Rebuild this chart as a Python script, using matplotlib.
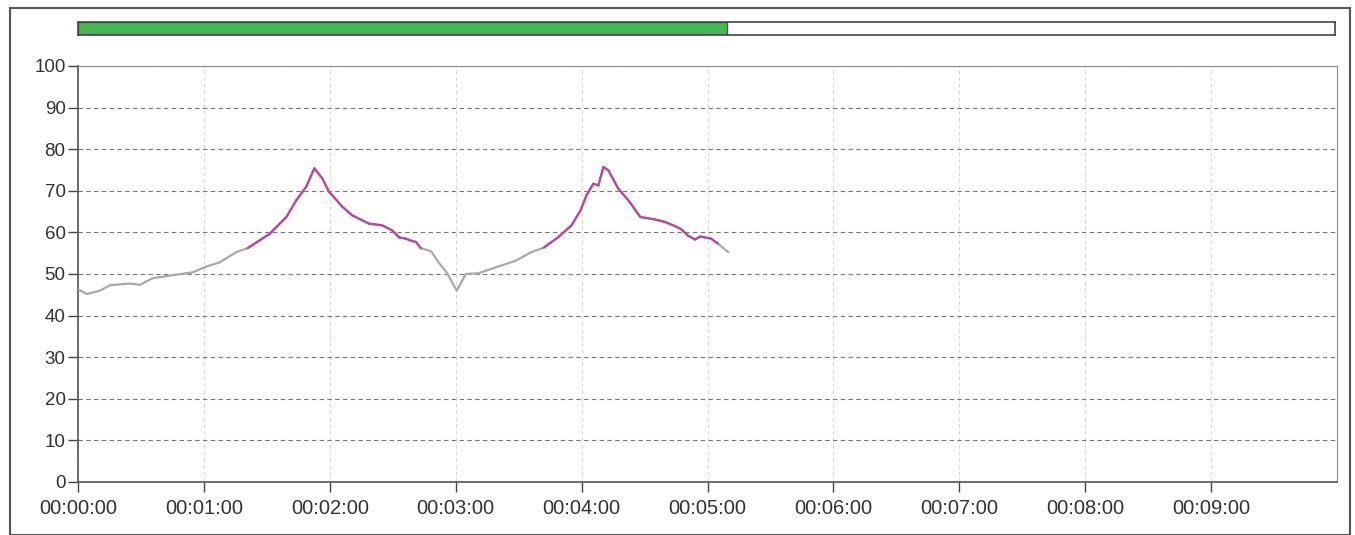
import numpy as np
import matplotlib
matplotlib.use("Agg")
import matplotlib.pyplot as plt
from matplotlib.patches import Rectangle
from matplotlib.ticker import FuncFormatter

plt.rcParams["font.family"] = ["Liberation Sans", "DejaVu Sans"]

# time in seconds
t_sec = [0, 4.3, 10.5, 15.2, 24.7, 29.5, 35.6, 43.7, 54.6, 61.3, 67.5, 75.6,
         80.8, 91.2, 99.3, 104.0, 108.8, 112.6, 116.4, 119.7, 121.2, 125.9,
         130.7, 138.7, 144.9, 149.7, 153.0, 156.3, 158.7, 161.1, 163.4,
         168.2, 172.0, 175.8, 180.5, 184.8, 191.0, 199.1, 208.6, 216.2,
         221.9, 229.0, 235.2, 239.5, 242.3, 245.6, 248.0, 250.4, 252.8,
         257.5, 262.3, 268.0, 275.1, 279.8, 284.6, 287.4, 290.8, 294.1,
         296.5, 301.7, 305.0, 309.8]
values = [46.3, 45.2, 46.0, 47.3, 47.7, 47.4, 49.0, 49.6, 50.4, 51.8, 52.8, 55.3,
          56.2, 59.6, 63.7, 67.7, 71.0, 75.4, 73.0, 69.7, 68.9, 66.2,
          64.1, 62.1, 61.7, 60.5, 58.8, 58.5, 58.0, 57.7, 56.2,
          55.5, 52.7, 50.3, 46.0, 50.0, 50.2, 51.6, 53.2, 55.3,
          56.3, 58.9, 61.7, 65.3, 68.9, 71.7, 71.3, 75.7, 74.9,
          70.5, 67.7, 63.7, 63.1, 62.5, 61.5, 60.8, 59.2, 58.3,
          59.0, 58.5, 57.3, 55.3]
threshold = 56
total_sec = 600
y_ticks = list(range(0, 101, 10))
x_ticks = [m * 60 for m in range(10)]

t = np.array(t_sec)
v = np.array(values)

fig = plt.figure(figsize=(13.55, 5.35), dpi=100)
fig.patches.append(Rectangle((10 / 1355, 0), 1340 / 1355, 1 - 8 / 535,
                             transform=fig.transFigure, fill=False,
                             edgecolor="#555555", lw=1.5))

# progress bar
pax = fig.add_axes([78 / 1355, 1 - 35 / 535, 1257 / 1355, 13 / 535])
pax.barh(0, t[-1], height=1, color="#45b855", edgecolor="#2f6f3a",
         lw=1.0, align="edge")
pax.set_xlim(0, total_sec)
pax.set_ylim(0, 1)
pax.set_xticks([])
pax.set_yticks([])
for s in pax.spines.values():
    s.set_color("#444444")
    s.set_linewidth(1.2)

ax = fig.add_axes([78 / 1355, 1 - 482 / 535, 1259 / 1355, 416 / 535])
ax.set_xlim(0, total_sec)
ax.set_ylim(0, 100)

# gray line everywhere, magenta where above threshold
ax.plot(t, v, color="#a8a8a8", lw=1.6, zorder=3)
hi = v >= threshold
for i in range(len(t) - 1):
    if hi[i] and hi[i + 1]:
        ax.plot(t[i:i + 2], v[i:i + 2], color="#b8479e", lw=1.6, zorder=4,
                solid_capstyle="round")

ax.set_yticks(y_ticks)
ax.set_xticks(x_ticks)
ax.xaxis.set_major_formatter(FuncFormatter(
    lambda x, p: "%02d:%02d:%02d" % (x // 3600, (x % 3600) // 60, x % 60)))

ax.grid(axis="y", color="#777777", ls=(0, (4, 3)), lw=0.8)
ax.grid(axis="x", color="#d5d5d5", ls=(0, (4, 3)), lw=0.7)
ax.tick_params(axis="both", direction="out", length=7, width=1,
               color="#444444", labelcolor="#333333")
ax.tick_params(axis="x", labelsize=14.5, pad=5)
ax.tick_params(axis="y", labelsize=13.5, pad=2)
for name, s in ax.spines.items():
    s.set_color("#555555" if name in ("left", "bottom") else "#888888")
    s.set_linewidth(1.2 if name in ("left", "bottom") else 0.8)

fig.savefig("out.png", dpi=100)
